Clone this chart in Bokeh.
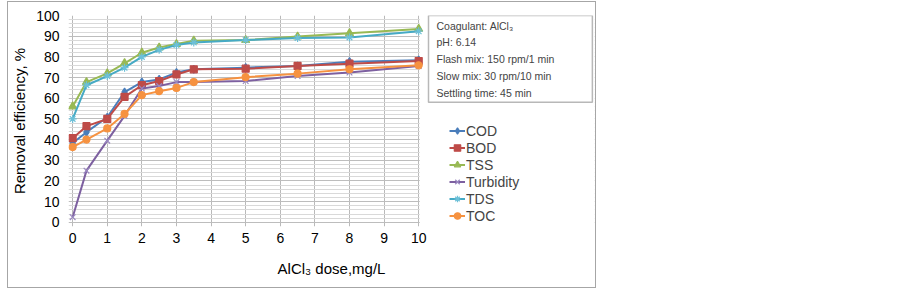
from bokeh.plotting import figure
from bokeh.models import (Legend, LegendItem, Label, Range1d, FixedTicker, BoxAnnotation)
from bokeh.embed import file_html
from bokeh.resources import INLINE

# ---- data ----
dose = [0, 0.4, 1, 1.5, 2, 2.5, 3, 3.5, 5, 6.5, 8, 10]
cod = [38.4, 43.6, 50.8, 63.0, 67.8, 69.1, 72.4, 74.0, 74.8, 75.6, 77.7, 78.4]
bod = [40.7, 46.5, 50.0, 60.7, 66.3, 68.3, 71.5, 74.0, 74.3, 75.6, 76.7, 78.0]
tss = [56.0, 67.8, 72.0, 76.9, 82.0, 84.5, 86.2, 87.8, 88.1, 89.8, 91.4, 93.5]
turbidity = [2.5, 25.0, 39.5, 51.5, 64.7, 65.9, 67.8, 67.8, 68.3, 70.7, 72.4, 75.6]
tds = [50.0, 66.3, 70.7, 74.8, 80.0, 83.4, 85.7, 87.0, 88.1, 89.1, 89.4, 92.4]
toc = [36.4, 40.0, 45.4, 52.4, 61.5, 63.4, 65.0, 67.8, 70.2, 71.9, 74.0, 75.9]

series_names = ["COD", "BOD", "TSS", "Turbidity", "TDS", "TOC"]
series_values = [cod, bod, tss, turbidity, tds, toc]
series_colors = ["#4a7ebb", "#be4b48", "#98b954", "#7d60a0", "#46aac5", "#f69240"]
marker_lines = ["#4a7ebb", "#be4b48", "#98b954", "#9a88c0", "#6cc0d8", "#f69240"]
series_markers = ["diamond", "square", "triangle", "x", "asterisk", "circle"]
series_sizes = [8, 7, 8, 8, 8, 7]

x_ticks = list(range(0, 11))
y_ticks = list(range(0, 101, 10))
y_minor = [v for v in range(2, 100, 2) if v % 10 != 0]
info_lines = ["Coagulant: AlCl\u2083", "pH: 6.14", "Flash mix: 150 rpm/1 min",
              "Slow mix: 30 rpm/10 min", "Settling time: 45 min"]

FONT = "Liberation Sans"

p = figure(width=587, height=285,
           min_border_left=60, min_border_right=1,
           min_border_top=13, min_border_bottom=61,
           x_range=Range1d(-0.12, 15.08), y_range=Range1d(-2, 100),
           output_backend="svg", toolbar_location=None)
p.styles = {"outline": "1px solid #a6a6a6", "margin-left": "8px", "margin-top": "2px"}
p.outline_line_color = None
p.background_fill_color = "white"
p.border_fill_color = "white"

# axes
p.xaxis.ticker = FixedTicker(ticks=x_ticks)
p.yaxis.ticker = FixedTicker(ticks=y_ticks, minor_ticks=y_minor)
for ax in (p.xaxis[0], p.yaxis[0]):
    ax.axis_line_color = None
    ax.major_tick_line_color = None
    ax.minor_tick_line_color = None
    ax.major_tick_out = 0
    ax.major_tick_in = 0
    ax.minor_tick_out = 0
    ax.minor_tick_in = 0
    ax.major_label_text_font = FONT
    ax.major_label_text_font_size = "14px"
    ax.major_label_text_color = "black"
    ax.axis_label_text_font = FONT
    ax.axis_label_text_font_size = "15px"
    ax.axis_label_text_font_style = "normal"
    ax.axis_label_text_color = "black"

p.xaxis.major_label_standoff = 6
p.xaxis.axis_label = "AlCl\u2083 dose,mg/L"
p.xaxis.axis_label_standoff = 14

p.yaxis.major_label_standoff = 9
p.yaxis.axis_label = "Removal efficiency, %"
p.yaxis.axis_label_standoff = 5

# grids
p.xgrid.grid_line_color = "#b9b9b9"
p.ygrid.grid_line_color = "#bdbdbd"
p.ygrid.minor_grid_line_color = "#d9d9d9"

# white panel right of the plotting area (covers gridline overrun)
p.add_layout(BoxAnnotation(left=10.03, fill_color="white", fill_alpha=1.0,
                           line_color=None, level="underlay"))

items = []
for name, vals, col, mcol, mk, sz in zip(series_names, series_values, series_colors,
                                         marker_lines, series_markers, series_sizes):
    r1 = p.line(dose, vals, line_color=col, line_width=2)
    r2 = p.scatter(dose, vals, marker=mk, size=sz, fill_color=col,
                   line_color=mcol, line_width=1.2)
    items.append(LegendItem(label=name, renderers=[r1, r2]))

legend = Legend(items=items, location=(381, 2), margin=0, padding=0, spacing=0,
                label_height=17, glyph_height=17, glyph_width=16, label_standoff=1,
                label_text_font=FONT, label_text_font_size="14px",
                border_line_color=None, background_fill_alpha=0)
p.add_layout(legend)

info = Label(x=360, y=211, x_units="screen", y_units="screen",
             text="\n".join(info_lines), text_font=FONT, text_font_size="10.5px",
             text_line_height=1.41, text_align="left", text_baseline="top",
             border_line_color="#b8b8b8", border_line_width=1.5,
             background_fill_color="white",
             padding=dict(left=8, right=38, top=4, bottom=3))
p.add_layout(info)

open("out.html", "w").write(file_html(p, INLINE))
